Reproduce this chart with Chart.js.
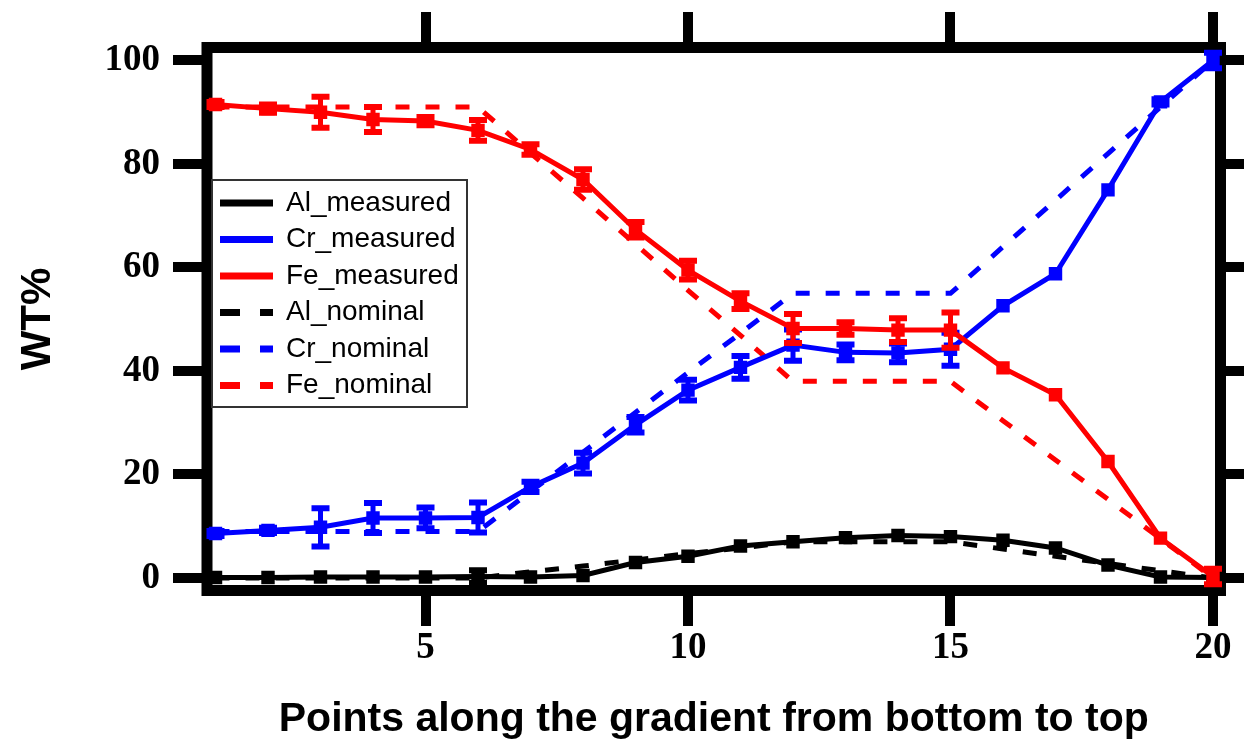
<!DOCTYPE html>
<html><head><meta charset="utf-8">
<script src="https://cdn.jsdelivr.net/npm/chart.js@4/dist/chart.umd.min.js"></script>
<style>html,body{margin:0;padding:0;background:#fff;}canvas{display:block;}</style>
</head><body>
<canvas id="c" width="1244" height="744"></canvas>
<script>
// ---- data ----
const points = [1,2,3,4,5,6,7,8,9,10,11,12,13,14,15,16,17,18,19,20];
const xTickValues = [5,10,15,20];
const yTickValues = [0,20,40,60,80,100];

const alMeasured = [0.1,0.1,0.2,0.2,0.2,0.3,0.2,0.5,3.0,4.2,6.2,7.0,7.8,8.2,8.0,7.3,5.8,2.5,0.2,0.1];
const alMeasuredErr = [0,0,0,0,0,1.2,0,0,0,0,0,0,0,0,0,0,0,0,0,0];
const crMeasured = [8.6,9.2,9.8,11.6,11.6,11.7,17.6,22.2,29.6,36.3,40.7,45.0,43.6,43.5,44.2,52.6,58.8,75.0,92.0,100.0];
const crMeasuredErr = [0.5,0.5,3.7,2.9,2.0,2.9,1.0,2.0,1.5,2.0,2.2,3.0,1.5,1.8,3.2,0,0,0,0.5,1.5];
const feMeasured = [91.5,90.7,90.0,88.6,88.3,86.5,82.8,77.0,67.3,59.5,53.5,48.2,48.2,47.9,47.9,40.6,35.4,22.5,7.7,0.3];
const feMeasuredErr = [0.5,0.8,3.0,2.4,0.8,2.0,1.0,2.0,1.5,1.8,1.5,2.8,1.2,2.3,3.4,0,0,0,0,1.5];

const alNominal = [0,0,0,0,0,0,1.2,2.3,3.5,4.7,5.8,7,7,7,7,5.6,4.2,2.8,1.4,0];
const crNominal = [9,9,9,9,9,9,16.7,24.3,32,39.7,47.3,55,55,55,55,64,73,82,91,100];
const feNominal = [91,91,91,91,91,91,82.1,73.4,64.5,55.6,46.9,38,38,38,38,30.4,22.8,15.2,7.6,0];

const seriesLabels = ['Al_measured','Cr_measured','Fe_measured','Al_nominal','Cr_nominal','Fe_nominal'];
const xTitle = 'Points along the gradient from bottom to top';
const yTitle = 'WT%';

// ---- build ----
const toXY = arr => points.map((x,i)=>({x:x, y:arr[i]}));
const BLACK='#000000', BLUE='#0000ff', RED='#ff0000';
const errors = {Al_measured: alMeasuredErr, Cr_measured: crMeasuredErr, Fe_measured: feMeasuredErr};

function measured(label, arr, color, order){
  return {label, data: toXY(arr), borderColor: color, backgroundColor: color,
    borderWidth: 5, pointStyle: 'rect', pointRadius: 9.5, pointBorderWidth: 0,
    pointBackgroundColor: color, tension: 0, clip: 0, order};
}
function nominal(label, arr, color, order){
  return {label, data: toXY(arr), borderColor: color, backgroundColor: color,
    borderWidth: 5, borderDash: [14,16], pointRadius: 0, tension: 0, clip: 0, order};
}

const datasets = [
  measured(seriesLabels[0], alMeasured, BLACK, 3),
  measured(seriesLabels[1], crMeasured, BLUE, 2),
  measured(seriesLabels[2], feMeasured, RED, 1),
  nominal(seriesLabels[3], alNominal, BLACK, 6),
  nominal(seriesLabels[4], crNominal, BLUE, 5),
  nominal(seriesLabels[5], feNominal, RED, 4)
];

const framePlugin = {
  id: 'frame',
  beforeDatasetsDraw(chart){
    const {ctx, chartArea: a} = chart;
    ctx.save();
    ctx.strokeStyle = '#000';
    ctx.lineWidth = 11;
    ctx.lineJoin = 'miter';
    ctx.strokeRect(a.left, a.top, a.right - a.left, a.bottom - a.top);
    ctx.restore();
  }
};

const errorBarPlugin = {
  id: 'errbars',
  afterDatasetDraw(chart, args){
    const ds = chart.data.datasets[args.index];
    const err = errors[ds.label];
    if (!err) return;
    const xs = chart.scales.x, ys = chart.scales.y;
    const ctx = chart.ctx;
    ctx.save();
    ctx.strokeStyle = ds.borderColor;
    ds.data.forEach((p,i)=>{
      const e = err[i];
      if (!e) return;
      const px = xs.getPixelForValue(p.x);
      const y1 = ys.getPixelForValue(p.y + e);
      const y2 = ys.getPixelForValue(p.y - e);
      ctx.lineWidth = 5;
      ctx.beginPath(); ctx.moveTo(px, y1); ctx.lineTo(px, y2); ctx.stroke();
      ctx.lineWidth = 6;
      ctx.beginPath();
      ctx.moveTo(px-9, y1); ctx.lineTo(px+9, y1);
      ctx.moveTo(px-9, y2); ctx.lineTo(px+9, y2);
      ctx.stroke();
    });
    ctx.restore();
  }
};

const legendPlugin = {
  id: 'boxLegend',
  afterDraw(chart){
    const {ctx, chartArea: a} = chart;
    const left = a.left + 5, top = a.top + 132.5, w = 255, h = 227;
    ctx.save();
    ctx.fillStyle = '#fff';
    ctx.fillRect(left, top, w, h);
    ctx.strokeStyle = '#333';
    ctx.lineWidth = 2;
    ctx.strokeRect(left, top, w, h);
    ctx.font = '28px "Liberation Sans", Arial, sans-serif';
    ctx.textBaseline = 'middle';
    ctx.textAlign = 'left';
    seriesLabels.forEach((lab, i)=>{
      const ds = chart.data.datasets.find(d=>d.label===lab);
      const y = top + 23 + i*36.5;
      ctx.strokeStyle = ds.borderColor;
      ctx.lineWidth = 7;
      ctx.setLineDash(ds.borderDash ? [20,20] : []);
      ctx.beginPath(); ctx.moveTo(left+8, y); ctx.lineTo(left+61, y); ctx.stroke();
      ctx.setLineDash([]);
      ctx.fillStyle = '#000';
      ctx.fillText(lab, left + 74, y);
    });
    ctx.restore();
  }
};

const tickFont = {family: '"Liberation Serif", "Times New Roman", serif', size: 37, weight: 'bold'};
const titleFont = {family: '"Liberation Sans", Arial, sans-serif', size: 41, weight: 'bold'};
const gridOpts = {drawOnChartArea: false, color: '#000', lineWidth: 10, tickLength: 35.5};

new Chart(document.getElementById('c'), {
  type: 'line',
  data: {datasets},
  options: {
    responsive: false, animation: false, devicePixelRatio: 1,
    layout: {padding: 0},
    plugins: {legend: {display: false}, tooltip: {enabled: false}},
    scales: {
      x: {type: 'linear', position: 'bottom', min: 0.838, max: 20.143,
        afterBuildTicks: s => { s.ticks = xTickValues.map(v=>({value:v})); },
        afterFit: s => { s.height = 153.5; },
        grid: gridOpts, border: {display: false},
        ticks: {font: tickFont, color: '#000', padding: 0, maxRotation: 0, autoSkip: false},
        title: {display: true, text: xTitle, font: titleFont, color: '#000', padding: {top: 0, bottom: 0}}
      },
      x2: {type: 'linear', position: 'top', min: 0.838, max: 20.143,
        afterBuildTicks: s => { s.ticks = xTickValues.map(v=>({value:v})); },
        afterFit: s => { s.height = 47.5; },
        grid: gridOpts, border: {display: false}, ticks: {display: false}
      },
      y: {type: 'linear', position: 'left', min: -2.415, max: 102.51,
        afterBuildTicks: s => { s.ticks = yTickValues.map(v=>({value:v})); },
        afterFit: s => { s.width = 207; },
        grid: Object.assign({}, gridOpts, {tickLength: 34}), border: {display: false},
        ticks: {font: tickFont, color: '#000', padding: 13, autoSkip: false},
        title: {display: true, text: yTitle, font: Object.assign({}, titleFont, {size: 42}), color: '#000', padding: {top: 13, bottom: 0}}
      },
      y2: {type: 'linear', position: 'right', min: -2.415, max: 102.51,
        afterBuildTicks: s => { s.ticks = yTickValues.map(v=>({value:v})); },
        afterFit: s => { s.width = 23.5; },
        grid: gridOpts, border: {display: false}, ticks: {display: false}
      }
    }
  },
  plugins: [framePlugin, errorBarPlugin, legendPlugin]
});
</script>
</body></html>
